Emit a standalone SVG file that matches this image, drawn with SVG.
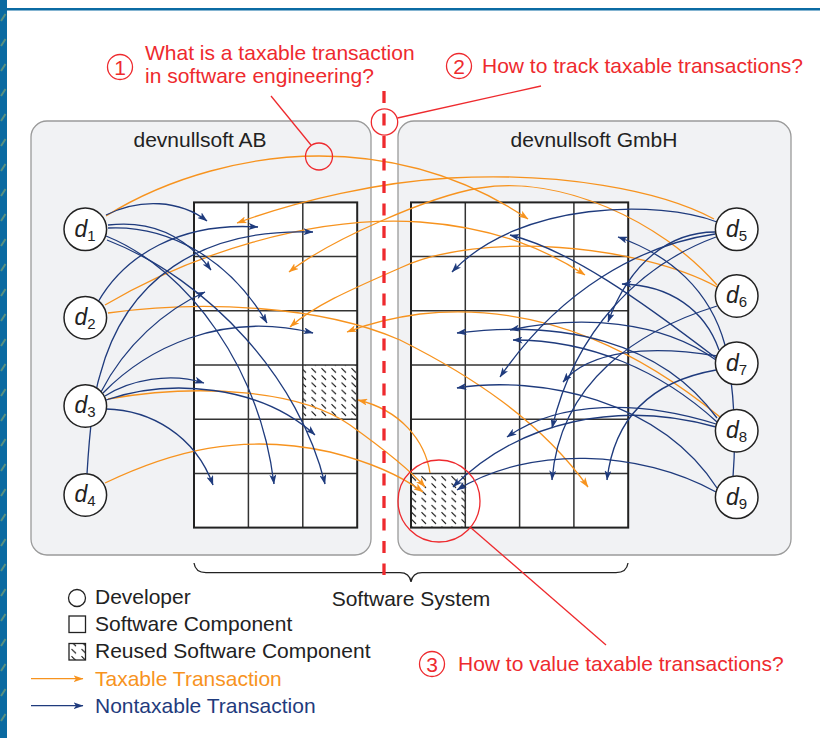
<svg xmlns="http://www.w3.org/2000/svg" width="820" height="738" viewBox="0 0 820 738">
<defs>
<style>
.txt{font-family:"Liberation Sans",Arial,Helvetica,sans-serif;}
.ann{font-family:"Liberation Sans",Arial,Helvetica,sans-serif;font-size:21px;fill:#ee2a2e;}
.lbl{font-family:"Liberation Sans",Arial,Helvetica,sans-serif;font-size:21px;fill:#222;}
.panel{fill:#f1f2f4;stroke:#9a9a9a;stroke-width:1.3;}
.cell{fill:#fff;}
.gl{stroke:#333;stroke-width:1.5;fill:none;}
.gout{stroke:#222;stroke-width:2;fill:none;}
.dev{fill:#fff;stroke:#222;stroke-width:1.5;}
.dl{font-family:"Liberation Sans",Arial,Helvetica,sans-serif;font-size:23px;font-style:italic;fill:#222;}
.sub{font-size:15px;font-style:normal;}
.nt{fill:none;stroke:#1f3b7d;stroke-width:1.3;marker-end:url(#ab);}
.tx{fill:none;stroke:#f7931e;stroke-width:1.3;marker-end:url(#ao);}
.red{fill:none;stroke:#ee2a2e;stroke-width:1.3;}
</style>
<marker id="ab" viewBox="0 0 10 7" refX="9.5" refY="3.5" markerWidth="10" markerHeight="7" markerUnits="userSpaceOnUse" orient="auto"><path d="M0,0 L10,3.5 L0,7 L2.5,3.5z" fill="#1f3b7d"/></marker>
<marker id="ao" viewBox="0 0 10 7" refX="9.5" refY="3.5" markerWidth="10" markerHeight="7" markerUnits="userSpaceOnUse" orient="auto"><path d="M0,0 L10,3.5 L0,7 L2.5,3.5z" fill="#f7931e"/></marker>
<pattern id="hatch" width="10" height="7.2" patternUnits="userSpaceOnUse"><path d="M1.5,1 L6,5.4" stroke="#111" stroke-width="1.1"/></pattern>
<pattern id="stripe" width="7" height="25" patternUnits="userSpaceOnUse"><rect width="7" height="25" fill="#0a6aa1"/><path d="M1,21 L5.5,14" stroke="#5a907f" stroke-width="2"/></pattern>
</defs>

<!-- page frame -->
<rect x="0" y="0" width="820" height="738" fill="#fff"/>
<rect x="0" y="0" width="7" height="738" fill="url(#stripe)"/>
<rect x="7" y="8" width="813" height="2.5" fill="#0b6ba3"/>

<!-- organisations -->
<g id="devnullsoft-ab">
<rect class="panel" x="31" y="121" width="340" height="434" rx="16"/>
<text class="lbl" x="200" y="147" text-anchor="middle" font-size="20.5">devnullsoft AB</text>
</g>
<g id="devnullsoft-gmbh">
<rect class="panel" x="398" y="121" width="393" height="434" rx="16"/>
<text class="lbl" x="594" y="147" text-anchor="middle" font-size="20.5">devnullsoft GmbH</text>
</g>

<!-- component grids -->
<g id="grid-ab">
<rect class="cell" x="194" y="202.4" width="163.2" height="325.2"/>
<rect x="302.8" y="365" width="54.4" height="54.2" fill="url(#hatch)"/>
<path class="gl" d="M248.4,202.4V527.6M302.8,202.4V527.6M194,256.6H357.2M194,310.8H357.2M194,365H357.2M194,419.2H357.2M194,473.4H357.2"/>
<rect class="gout" x="194" y="202.4" width="163.2" height="325.2"/>
</g>
<g id="grid-gmbh">
<rect class="cell" x="411" y="202.4" width="217.2" height="325.2"/>
<rect x="411" y="473.4" width="54.3" height="54.2" fill="url(#hatch)"/>
<path class="gl" d="M465.3,202.4V527.6M519.6,202.4V527.6M573.9,202.4V527.6M411,256.6H628.2M411,310.8H628.2M411,365H628.2M411,419.2H628.2M411,473.4H628.2"/>
<rect class="gout" x="411" y="202.4" width="217.2" height="325.2"/>
</g>

<!-- transactions -->
<g id="connectors">
<!-- taxable -->
<path class="tx" d="M106,216 C170,176 250,156 319,156 C400,156 470,180 528,219"/>
<path class="tx" d="M105,305 C190,255 310,215 420,222 C500,228 550,252 585,275"/>
<path class="tx" d="M108,313 C200,300 320,305 400,340 C470,375 540,420 588,487"/>
<path class="tx" d="M108,399 C200,383 300,390 350,425 C385,450 410,470 425,487"/>
<path class="tx" d="M105,483 C170,452 240,432 330,452 C370,462 400,475 423,492"/>
<path class="tx" d="M430,473 C425,440 400,410 358,400"/>
<path class="tx" d="M717,287 C640,245 480,230 400,268 C350,290 315,305 290,327"/>
<path class="tx" d="M720,417 C650,360 550,300 420,314 C390,318 365,325 347,332"/>
<path class="tx" d="M714,219 C660,190 560,172 450,178 C380,182 300,200 237,223"/>
<path class="tx" d="M717,285 C660,220 560,175 480,188 C430,196 330,240 289,272"/>
<!-- nontaxable, AB -->
<path class="nt" d="M106,215 C140,198 180,200 207,221"/>
<path class="nt" d="M108,225 C150,220 185,235 211,270"/>
<path class="nt" d="M108,228 C170,225 230,260 267,323"/>
<path class="nt" d="M106,236 C190,270 260,370 274,484"/>
<path class="nt" d="M107,240 C210,280 300,380 325,484"/>
<path class="nt" d="M98,302 C125,255 180,222 258,227"/>
<path class="nt" d="M87,474 C89,440 92,400 100,375 C125,280 200,228 313,232"/>
<path class="nt" d="M101,392 C125,345 165,310 205,292"/>
<path class="nt" d="M103,393 C145,350 220,310 313,333"/>
<path class="nt" d="M105,396 C130,380 170,372 204,383"/>
<path class="nt" d="M106,400 C170,378 260,385 315,435"/>
<path class="nt" d="M106,409 C150,410 195,435 213,485"/>
<!-- nontaxable, GmbH -->
<path class="nt" d="M717,222 C660,200 520,200 452,272"/>
<path class="nt" d="M715,232 C670,232 630,262 608,322"/>
<path class="nt" d="M715,234 C640,245 560,290 500,377"/>
<path class="nt" d="M716,237 C640,265 575,330 552,428"/>
<path class="nt" d="M717,356 C650,345 590,350 563,382"/>
<path class="nt" d="M717,306 C640,330 560,380 552,480"/>
<path class="nt" d="M719,350 C705,310 670,285 622,284"/>
<path class="nt" d="M716,358 C640,300 570,250 510,235"/>
<path class="nt" d="M716,360 C660,320 580,315 510,330"/>
<path class="nt" d="M716,370 C660,380 615,410 607,480"/>
<path class="nt" d="M717,418 C660,340 560,320 457,333"/>
<path class="nt" d="M717,422 C660,370 590,340 513,340"/>
<path class="nt" d="M716,424 C640,400 560,400 507,437"/>
<path class="nt" d="M716,427 C620,400 520,420 453,487"/>
<path class="nt" d="M733,477 C736,440 735,390 725,345 C710,290 670,255 618,237"/>
<path class="nt" d="M717,488 C660,400 540,375 457,388"/>
<path class="nt" d="M716,492 C640,450 530,445 457,490"/>
</g>

<!-- developers -->
<g id="d1"><circle class="dev" cx="85.3" cy="229.3" r="21.3"/><text class="dl" x="74.5" y="236.5">d<tspan class="sub" dy="4">1</tspan></text></g>
<g id="d2"><circle class="dev" cx="85.3" cy="317.7" r="21.3"/><text class="dl" x="74.5" y="324.9">d<tspan class="sub" dy="4">2</tspan></text></g>
<g id="d3"><circle class="dev" cx="85.3" cy="406" r="21.3"/><text class="dl" x="74.5" y="413.2">d<tspan class="sub" dy="4">3</tspan></text></g>
<g id="d4"><circle class="dev" cx="85.3" cy="495" r="21.3"/><text class="dl" x="74.5" y="502.2">d<tspan class="sub" dy="4">4</tspan></text></g>
<g id="d5"><circle class="dev" cx="736.7" cy="229.3" r="21.3"/><text class="dl" x="726" y="236.5">d<tspan class="sub" dy="4">5</tspan></text></g>
<g id="d6"><circle class="dev" cx="736.7" cy="296" r="21.3"/><text class="dl" x="726" y="303.2">d<tspan class="sub" dy="4">6</tspan></text></g>
<g id="d7"><circle class="dev" cx="736.7" cy="363.3" r="21.3"/><text class="dl" x="726" y="370.5">d<tspan class="sub" dy="4">7</tspan></text></g>
<g id="d8"><circle class="dev" cx="736.7" cy="430.7" r="21.3"/><text class="dl" x="726" y="437.9">d<tspan class="sub" dy="4">8</tspan></text></g>
<g id="d9"><circle class="dev" cx="736.7" cy="497.3" r="21.3"/><text class="dl" x="726" y="504.5">d<tspan class="sub" dy="4">9</tspan></text></g>

<!-- software system brace -->
<g id="software-system">
<path d="M194,563 C195,570 199,572.7 206,572.7 H400 C406,572.7 410,576 411,582 C412,576 416,572.7 422,572.7 H616 C623,572.7 627,570 628,563" fill="none" stroke="#222" stroke-width="1.3"/>
<text class="lbl" x="411" y="606" text-anchor="middle">Software System</text>
</g>

<!-- boundary between organisations -->
<line x1="384" y1="91" x2="384" y2="575" stroke="#ee2a2e" stroke-width="3.3" stroke-dasharray="12 10.5"/>

<!-- questions -->
<g id="q1">
<circle class="red" cx="120" cy="67" r="12.5"/>
<text class="ann" x="120" y="74.5" text-anchor="middle">1</text>
<text class="ann" x="145" y="59.5">What is a taxable transaction</text>
<text class="ann" x="145" y="83">in software engineering?</text>
<line class="red" x1="271" y1="96" x2="311" y2="145"/>
<circle class="red" cx="319" cy="156.5" r="13.5"/>
</g>
<g id="q2">
<circle class="red" cx="459" cy="66" r="12.5"/>
<text class="ann" x="459" y="73.5" text-anchor="middle">2</text>
<text class="ann" x="482" y="73">How to track taxable transactions?</text>
<line class="red" x1="541" y1="86" x2="397.5" y2="118"/>
<circle class="red" cx="384.5" cy="122" r="13.2"/>
</g>
<g id="q3">
<circle class="red" cx="432" cy="664" r="12.5"/>
<text class="ann" x="432" y="671.5" text-anchor="middle">3</text>
<text class="ann" x="458" y="670.5">How to value taxable transactions?</text>
<line class="red" x1="606" y1="645" x2="470" y2="527"/>
<circle class="red" cx="439" cy="501" r="41"/>
</g>

<!-- legend -->
<g id="legend">
<circle cx="77" cy="598" r="8.5" fill="#fff" stroke="#222" stroke-width="1.3"/>
<text class="lbl" x="95" y="604">Developer</text>
<rect x="69" y="616" width="16.5" height="16.5" fill="#fff" stroke="#222" stroke-width="1.3"/>
<text class="lbl" x="95" y="631">Software Component</text>
<rect x="69" y="643.5" width="16.5" height="16.5" fill="url(#hatch)" stroke="#222" stroke-width="1.3"/>
<text class="lbl" x="95" y="658.3">Reused Software Component</text>
<line x1="31" y1="678.7" x2="83" y2="678.7" stroke="#f7931e" stroke-width="1.3" marker-end="url(#ao)"/>
<text class="lbl" x="95" y="685.7" style="fill:#f7931e">Taxable Transaction</text>
<line x1="31" y1="705.7" x2="83" y2="705.7" stroke="#1f3b7d" stroke-width="1.3" marker-end="url(#ab)"/>
<text class="lbl" x="95" y="712.7" style="fill:#1f3b7d">Nontaxable Transaction</text>
</g>
</svg>
